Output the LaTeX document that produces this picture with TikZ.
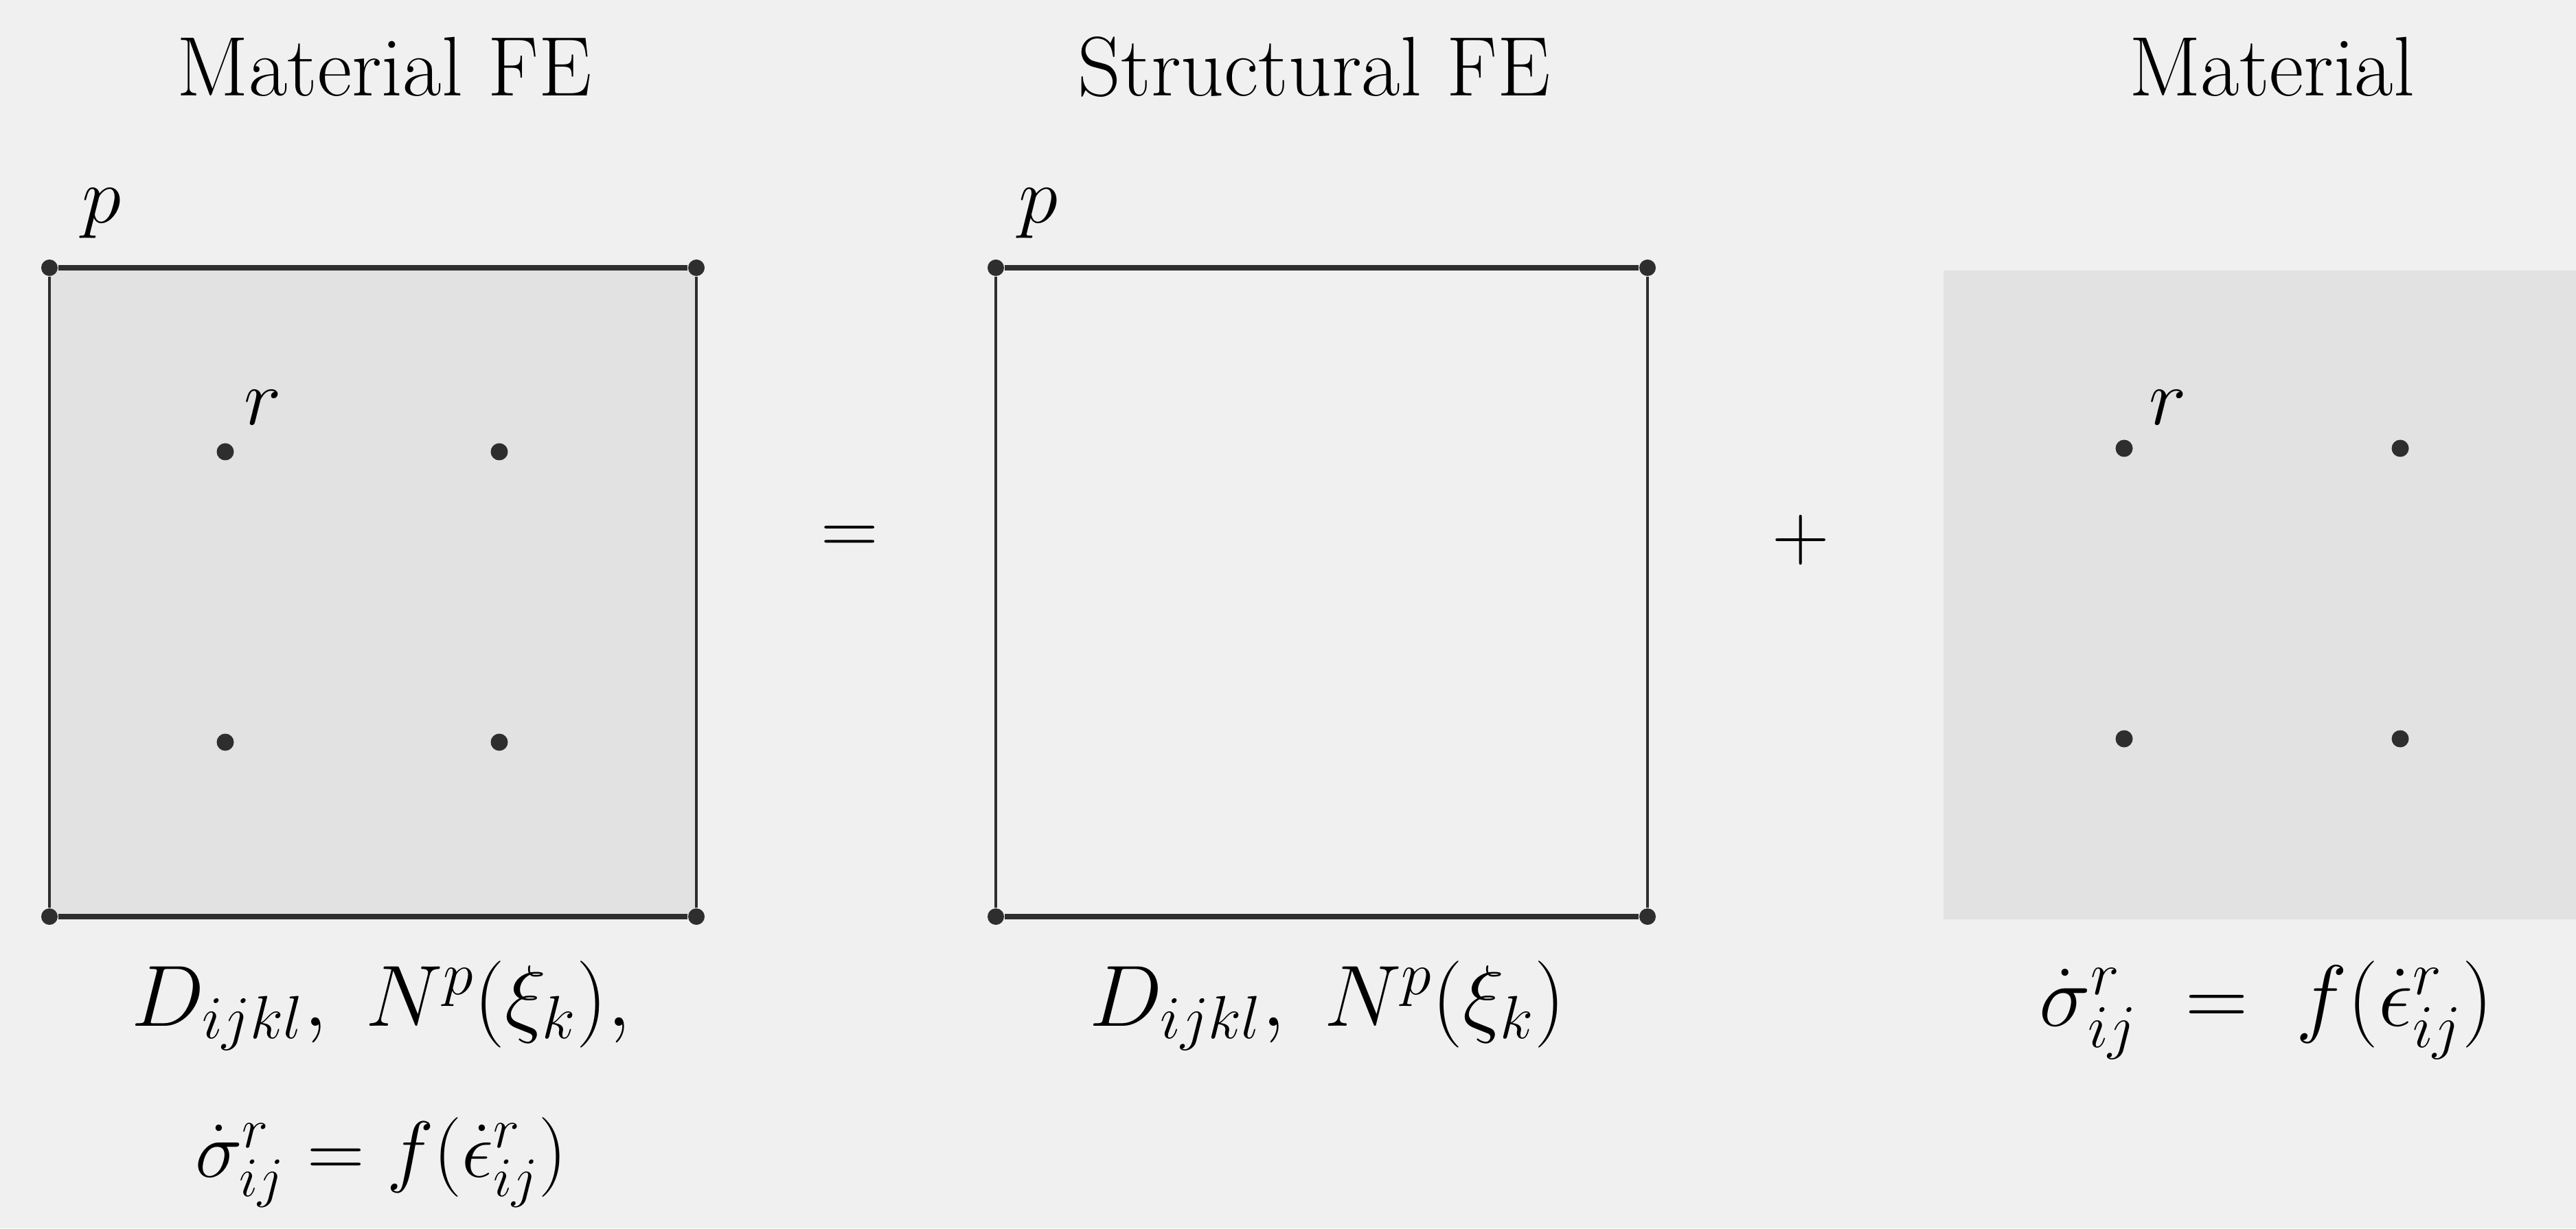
\documentclass[tikz,border=0pt]{standalone}
\usepackage{fix-cm}
\definecolor{paper}{gray}{0.94}
\definecolor{greyfill}{gray}{0.885}
\definecolor{ink}{gray}{0.18}

\begin{document}
\begin{tikzpicture}[
point/.style={circle, fill=ink, inner sep=0pt, minimum size=0.25cm},
corner/.style={circle, fill=ink, inner sep=0pt, minimum size=0.24cm},
hedge/.style={draw=ink, line width=2.2pt},
vedge/.style={draw=ink, line width=1.1pt},
txt/.style={inner sep=0pt, font=\fontsize{33}{40}\selectfont},
head/.style={inner sep=0pt, font=\fontsize{35}{42}\selectfont},
big/.style={inner sep=0pt, font=\fontsize{36}{43}\selectfont}
]

% background and grey areas
\fill[paper] (0,0) rectangle (37.51,17.89);
\useasboundingbox (0,0) rectangle (37.51,17.89);
\fill[greyfill] (0.72,4.54) rectangle (10.14,13.99);
\fill[greyfill] (28.30,4.50) rectangle (37.51,13.95);

% titles
\node[head, anchor=base] (tmfe) at (5.60,16.49) {Material FE};
\node[head, anchor=base] (tsfe) at (19.14,16.49) {Structural FE};
\node[head, anchor=base] (tmat) at (33.08,16.49) {Material};

% corners
\node[corner] (a1) at (0.72,13.99) {};
\node[corner] (a2) at (10.14,13.99) {};
\node[corner] (a3) at (10.14,4.54) {};
\node[corner] (a4) at (0.72,4.54) {};

\node[corner] (b1) at (14.50,13.99) {};
\node[corner] (b2) at (23.99,13.99) {};
\node[corner] (b3) at (23.99,4.54) {};
\node[corner] (b4) at (14.50,4.54) {};

% edges
\draw[hedge] (a1) -- (a2);
\draw[hedge] (a4) -- (a3);
\draw[vedge] (a1) -- (a4);
\draw[vedge] (a2) -- (a3);

\draw[hedge] (b1) -- (b2);
\draw[hedge] (b4) -- (b3);
\draw[vedge] (b1) -- (b4);
\draw[vedge] (b2) -- (b3);

% integration points
\node[point] (r1) at (3.28,11.31) {};
\node[point] (r2) at (7.27,11.31) {};
\node[point] (r3) at (3.28,7.08) {};
\node[point] (r4) at (7.27,7.08) {};

\node[point] (s1) at (30.93,11.36) {};
\node[point] (s2) at (34.95,11.36) {};
\node[point] (s3) at (30.93,7.13) {};
\node[point] (s4) at (34.95,7.13) {};

% point labels
\node[txt] (pa) at (1.48,14.78) {$p$};
\node[txt] (pb) at (15.12,14.78) {$p$};
\node[txt] (ra) at (3.83,11.95) {$r$};
\node[txt] (rb) at (31.57,11.95) {$r$};

% operators
\node[txt] (eq) at (12.37,10.02) {$=$};
\node[txt] (plus) at (26.22,10.02) {$+$};

% formulas
\node[big, anchor=base] (fa1) at (5.55,2.95) {$D_{ijkl},\; N^p(\xi_k),$};
\node[txt, anchor=base] (fa2) at (5.55,0.75) {$\dot\sigma^r_{ij} = f(\dot\epsilon^r_{ij})$};
\node[big, anchor=base] (fb) at (19.33,2.95) {$D_{ijkl},\; N^p(\xi_k)$};
\node[big, anchor=base] (fc) at (33.00,2.95) {$\dot\sigma^r_{ij} \;=\; f(\dot\epsilon^r_{ij})$};

\end{tikzpicture}
\end{document}
